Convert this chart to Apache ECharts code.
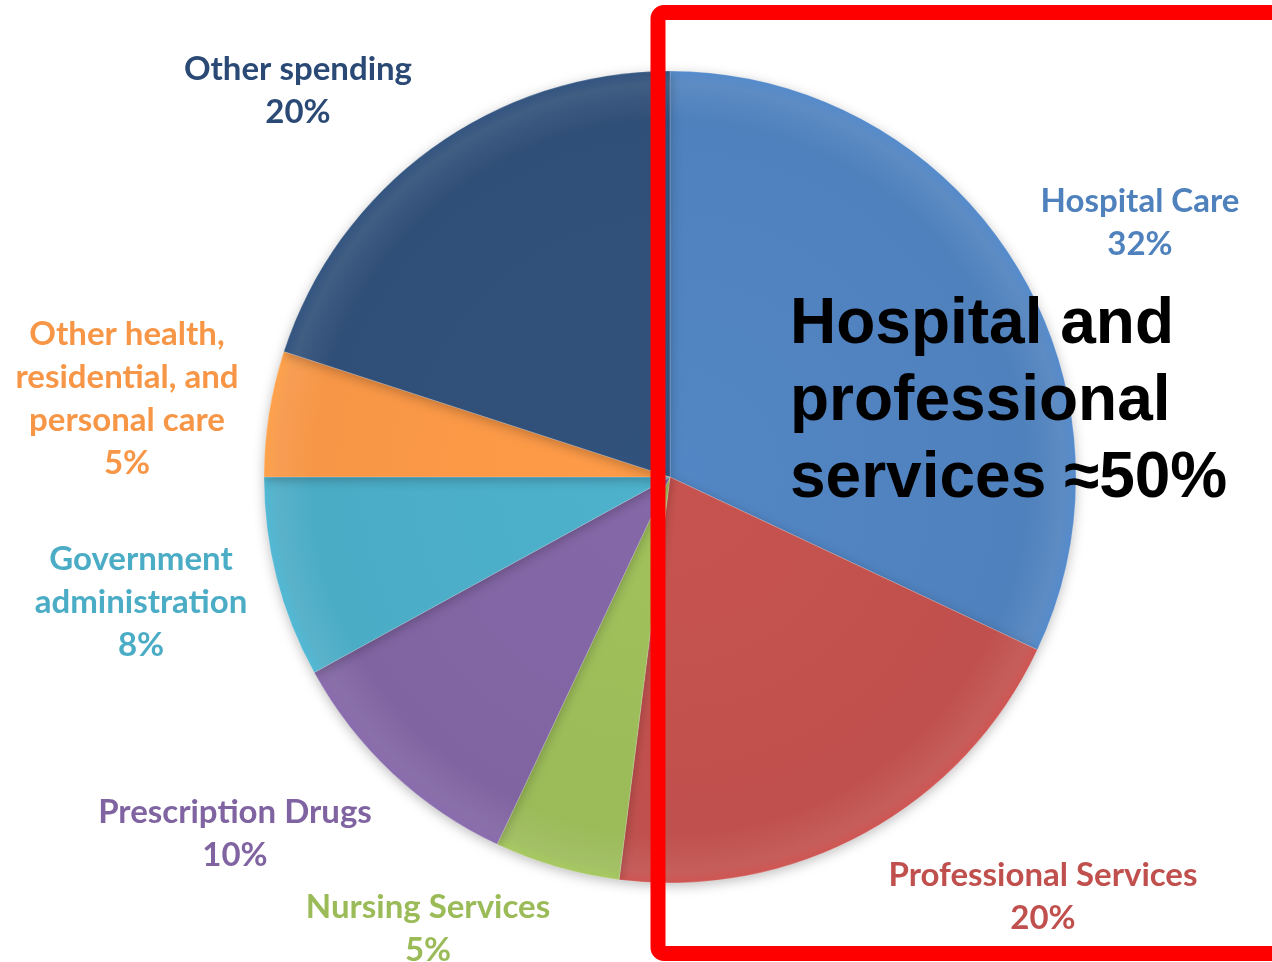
<!DOCTYPE html>
<html>
<head>
<meta charset="utf-8">
<script src="https://cdn.jsdelivr.net/npm/echarts@6/dist/echarts.min.js"></script>
<style>
  html, body { margin: 0; padding: 0; background: #fff; }
  #chart { width: 1272px; height: 962px; }
</style>
</head>
<body>
<div id="chart"></div>
<script>
// spending shares, clockwise from 12 o'clock
const categories = ['Hospital Care', 'Professional Services', 'Nursing Services', 'Prescription Drugs',
  'Government administration', 'Other health, residential, and personal care', 'Other spending'];
const labelText = ['Hospital Care', 'Professional Services', 'Nursing Services', 'Prescription Drugs',
  'Government\nadministration', 'Other health,\nresidential, and\npersonal care', 'Other spending'];
const shares = [32, 20, 5, 10, 8, 5, 20];
const sliceColors = ['#4F81BD', '#C0504D', '#9BBB59', '#8064A2', '#4BACC6', '#F79646', '#304F78'];
const labelColors = ['#4F81BD', '#C0504D', '#9BBB59', '#8064A2', '#4BACC6', '#F79646', '#2A4A75'];
const calloutText = 'Hospital and\nprofessional\nservices \u224850%';

// where each label block sits (center x, middle y)
const labelPos = [[1140, 223], [1043, 897], [428, 929], [235, 834], [141, 602], [127, 399], [298, 91]];

const cx = 670, cy = 477, R = 406;

function shade(c) {
  return {
    type: 'radial', x: cx, y: cy, r: R, global: true,
    colorStops: [
      { offset: 0, color: echarts.color.lift(c, -0.04) },
      { offset: 0.88, color: c },
      { offset: 0.97, color: echarts.color.lift(c, 0.08) },
      { offset: 1, color: echarts.color.lift(c, -0.08) }
    ]
  };
}

const chart = echarts.init(document.getElementById('chart'));
chart.setOption({
  animation: false,
  series: [{
    type: 'pie',
    center: [cx, cy],
    radius: [0, R],
    startAngle: 90,
    clockwise: true,
    silent: true,
    data: categories.map((n, i) => ({
      name: n,
      value: shares[i],
      itemStyle: { color: shade(sliceColors[i]) },
      label: { color: labelColors[i] }
    })),
    itemStyle: {
      borderColor: 'rgba(255,255,255,0.2)',
      borderWidth: 1,
      shadowBlur: 12,
      shadowColor: 'rgba(0,0,0,0.25)',
      shadowOffsetY: 3
    },
    label: {
      show: true,
      position: 'outside',
      formatter: p => labelText[p.dataIndex] + '\n' + p.value + '%',
      fontFamily: 'Lato',
      fontWeight: 'bold',
      fontSize: 33,
      lineHeight: 43,
      align: 'center',
      overflow: 'none',
      width: 400
    },
    labelLine: { show: false },
    labelLayout: p => ({
      x: labelPos[p.dataIndex][0],
      y: labelPos[p.dataIndex][1],
      align: 'center',
      verticalAlign: 'middle'
    })
  }],
  graphic: [
    {
      type: 'rect',
      z: 100,
      shape: { x: 658, y: 12.5, width: 800, height: 941, r: 6 },
      style: { fill: 'none', stroke: '#FF0000', lineWidth: 15 }
    },
    {
      type: 'text',
      z: 101,
      left: 790,
      top: 287,
      style: {
        text: calloutText,
        font: 'bold 64px "Liberation Sans", Arial, sans-serif',
        lineHeight: 77,
        fill: '#000'
      }
    }
  ]
});
</script>
</body>
</html>
